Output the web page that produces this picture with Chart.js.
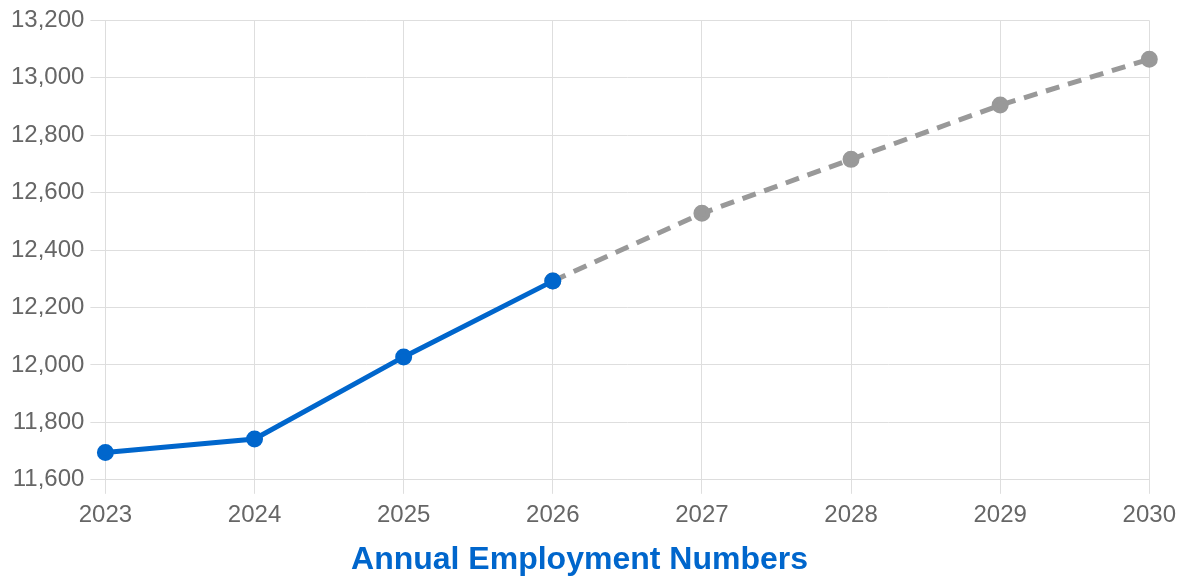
<!DOCTYPE html>
<html>
<head>
<meta charset="utf-8">
<script src="https://cdn.jsdelivr.net/npm/chart.js@4.4.1/dist/chart.umd.min.js"></script>
<style>
  html, body { margin: 0; padding: 0; background: #fff; }
  #wrap { width: 1183px; height: 579px; }
</style>
</head>
<body>
<div id="wrap"><canvas id="chart"></canvas></div>
<script>
const years = ['2023', '2024', '2025', '2026', '2027', '2028', '2029', '2030'];
// actual numbers up to 2026, projection from 2026 on
const actual = [11695, 11742, 12028, 12292, null, null, null, null];
const projected = [null, null, null, 12292, 12528, 12716, 12905, 13065];

const blue = '#0066cc';
const gray = '#999999';
const font = 'Liberation Sans, Arial, sans-serif';

new Chart(document.getElementById('chart').getContext('2d'), {
  type: 'line',
  data: {
    labels: years,
    datasets: [
      {
        label: 'Actual',
        data: actual,
        borderColor: blue,
        backgroundColor: blue,
        borderWidth: 5,
        pointRadius: 6,
        pointHoverRadius: 6,
        tension: 0
      },
      {
        label: 'Projected',
        data: projected,
        borderColor: gray,
        backgroundColor: gray,
        borderWidth: 5,
        borderDash: [14, 9],
        pointRadius: 6,
        pointHoverRadius: 6,
        tension: 0
      }
    ]
  },
  options: {
    responsive: true,
    maintainAspectRatio: false,
    animation: false,
    layout: { padding: { left: 5, right: 29, top: 19, bottom: 0 } },
    plugins: {
      legend: { display: false },
      tooltip: { enabled: false },
      title: {
        display: true,
        position: 'bottom',
        text: 'Annual Employment Numbers',
        color: blue,
        font: { family: font, size: 32, weight: 'bold' },
        padding: { top: 4, bottom: 0 }
      }
    },
    scales: {
      x: {
        grid: { color: '#dedede', tickLength: 14 },
        border: { color: '#dddddd' },
        ticks: {
          color: '#666666',
          font: { family: font, size: 24 },
          padding: 7
        }
      },
      y: {
        min: 11600,
        max: 13200,
        grid: { color: '#dedede', tickLength: 15 },
        border: { color: '#dddddd' },
        ticks: {
          stepSize: 200,
          color: '#666666',
          font: { family: font, size: 24 },
          padding: 6,
          callback: value => value.toLocaleString('en-US')
        }
      }
    }
  }
});
</script>
</body>
</html>
